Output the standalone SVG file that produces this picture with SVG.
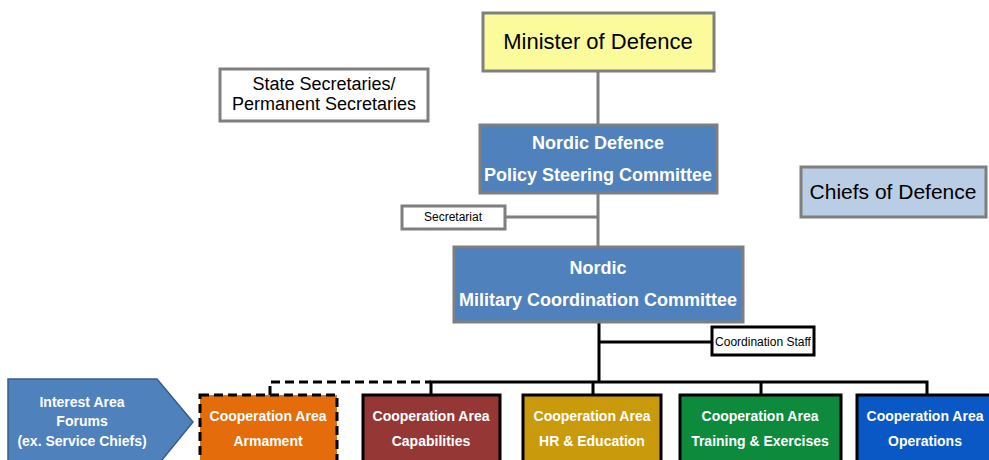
<svg xmlns="http://www.w3.org/2000/svg" width="989" height="460" viewBox="0 0 989 460">
<style>
text{font-family:"Liberation Sans",Arial,sans-serif;text-anchor:middle}
.g{fill:none;stroke:#7f7f7f;stroke-width:3}
.k{fill:none;stroke:#000;stroke-width:3}
.blue{fill:#4f81bd;stroke:#7f7f7f;stroke-width:3}
.wt{fill:#fff;font-weight:bold}
.ca{stroke:#000;stroke-width:3}
.cat{fill:#fff;font-weight:bold;font-size:14px}
</style>
<rect width="989" height="460" fill="#fff"/>
<g id="connectors">
<line class="g" x1="598" y1="71" x2="598" y2="125"/>
<line class="g" x1="598" y1="193" x2="598" y2="248"/>
<line class="g" x1="505" y1="217" x2="598" y2="217"/>
<line class="k" x1="599" y1="322" x2="599" y2="382"/>
<line class="k" x1="599" y1="342" x2="712" y2="342"/>
<polyline class="k" points="431,395 431,382 927,382 927,395"/>
<line class="k" x1="593" y1="382" x2="593" y2="395"/>
<line class="k" x1="761" y1="382" x2="761" y2="395"/>
<polyline class="k" stroke-dasharray="9,5" points="270,395 270,382 431,382"/>
</g>
<g id="minister">
<rect x="483" y="13" width="231" height="58" fill="#fbfb9c" stroke="#7f7f7f" stroke-width="3"/>
<text x="598" y="49" font-size="22">Minister of Defence</text>
</g>
<g id="state-secretaries">
<rect x="220" y="69" width="208" height="52" fill="#fff" stroke="#7f7f7f" stroke-width="3"/>
<text x="324" y="90" font-size="18">State Secretaries/</text>
<text x="324" y="110" font-size="18">Permanent Secretaries</text>
</g>
<g id="policy-steering">
<rect class="blue" x="480" y="125" width="237" height="68"/>
<text class="wt" x="598" y="149" font-size="18">Nordic Defence</text>
<text class="wt" x="598" y="181" font-size="18">Policy Steering Committee</text>
</g>
<g id="chiefs">
<rect x="801" y="167" width="185" height="50" fill="#b9cde5" stroke="#7f7f7f" stroke-width="3"/>
<text x="893" y="199" font-size="21">Chiefs of Defence</text>
</g>
<g id="secretariat">
<rect x="402" y="206" width="103" height="23" fill="#fff" stroke="#7f7f7f" stroke-width="3"/>
<text x="453" y="221" font-size="12">Secretariat</text>
</g>
<g id="mcc">
<rect class="blue" x="454" y="247" width="289" height="75"/>
<text class="wt" x="598" y="274" font-size="18">Nordic</text>
<text class="wt" x="598" y="306" font-size="18">Military Coordination Committee</text>
</g>
<g id="coordination-staff">
<rect x="712" y="327" width="102" height="28" fill="#fff" stroke="#000" stroke-width="3"/>
<text x="763" y="346" font-size="12">Coordination Staff</text>
</g>
<g id="interest-area">
<polygon points="8,379 157,379 193,422 157,466 8,466" fill="#4f81bd" stroke="#385d8a" stroke-width="1.5"/>
<text class="cat" x="82" y="407">Interest Area</text>
<text class="cat" x="82" y="426">Forums</text>
<text class="cat" x="82" y="446">(ex. Service Chiefs)</text>
</g>
<g id="armament">
<rect x="200" y="395" width="137" height="75" fill="#e46c0a" stroke="#000" stroke-width="3" stroke-dasharray="9,5"/>
<text class="cat" x="268" y="421">Cooperation Area</text>
<text class="cat" x="268" y="446">Armament</text>
</g>
<g id="capabilities">
<rect class="ca" x="363" y="395" width="137" height="75" fill="#953735"/>
<text class="cat" x="431" y="421">Cooperation Area</text>
<text class="cat" x="431" y="446">Capabilities</text>
</g>
<g id="hr-education">
<rect class="ca" x="523" y="395" width="138" height="75" fill="#c99a0c"/>
<text class="cat" x="592" y="421">Cooperation Area</text>
<text class="cat" x="592" y="446">HR &amp; Education</text>
</g>
<g id="training">
<rect class="ca" x="680" y="395" width="161" height="75" fill="#0d8a3c"/>
<text class="cat" x="760" y="421">Cooperation Area</text>
<text class="cat" x="760" y="446">Training &amp; Exercises</text>
</g>
<g id="operations">
<rect class="ca" x="857" y="395" width="140" height="75" fill="#0a58c6"/>
<text class="cat" x="925" y="421">Cooperation Area</text>
<text class="cat" x="925" y="446">Operations</text>
</g>
</svg>
